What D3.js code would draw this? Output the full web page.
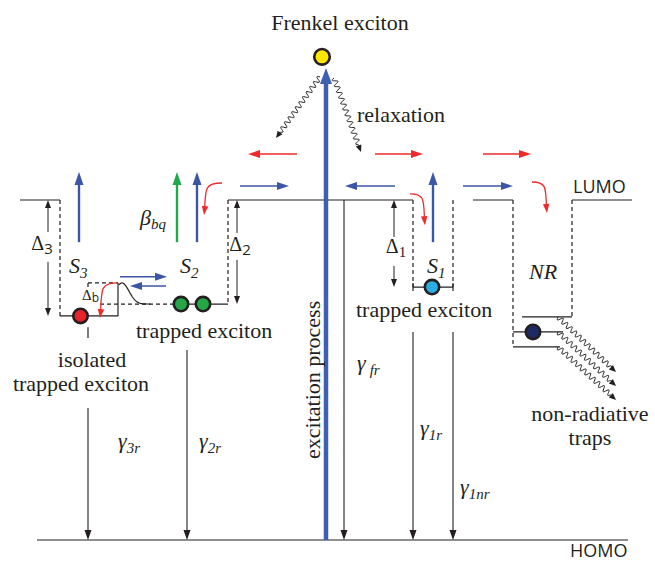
<!DOCTYPE html>
<html>
<head>
<meta charset="utf-8">
<script src="https://cdn.jsdelivr.net/npm/d3@7"></script>
<style>
  html, body { margin: 0; padding: 0; background: #fff; }
  svg { display: block; }
  text { fill: #231f20; }
  .serif { font-family: "Liberation Serif", "Times New Roman", Times, serif; }
  .sans { font-family: "Open Sans", "Noto Sans", sans-serif; }
</style>
</head>
<body>
<svg id="chart" width="655" height="562"></svg>
<script>
// ---------- energy levels (arbitrary units: HOMO = 0, LUMO = 10) ----------
const levelNames    = ["HOMO", "LUMO", "S1", "S2", "S3", "barrier", "NR top", "NR mid", "NR low", "Frenkel"];
const levelEnergies = [0, 10, 7.44, 6.94, 6.59, 7.56, 6.56, 6.12, 5.68, 14.21];

// ---------- band edges (site coordinate along the chain) ----------
const lumoStart = [0, 20.8, 45.3, 55.2];
const lumoEnd   = [4.0, 39.3, 49.3, 61.2];
const homoSpan  = [1.7, 60.8];

// dashed well walls: site and the level at which the wall stops
const wallSite  = [4.0, 20.8, 39.3, 43.3, 49.3, 55.2];
const wallFloor = ["S3", "S2", "S1", "S1", "NR low", "NR top"];

// solid trap floors
const floorLevel = ["S3", "S2", "S1", "NR top", "NR mid", "NR low"];
const floorStart = [4.0, 15.2, 39.3, 50.2, 49.3, 49.3];
const floorEnd   = [9.8, 20.8, 43.3, 55.2, 54.3, 54.0];

// excitons
const excitonName  = ["isolated", "trapped a", "trapped b", "trapped S1", "NR", "Frenkel"];
const excitonSite  = [6.05, 16.1, 18.3, 41.2, 51.3, 30.2];
const excitonLevel = ["S3", "S2", "S2", "S1", "NR mid", "Frenkel"];

// gaps to LUMO
const gapName  = ["3", "2", "1"];
const gapSite  = [2.8, 21.7, 37.4];
const gapLevel = ["S3", "S2", "S1"];
const gapBreak = [[9.06, 8.18], [9.03, 8.24], [8.91, 8.06]];

// decay channels to HOMO
const decayName = ["3r", "2r", "fr", "1r", "1nr"];
const decaySite = [6.8, 16.7, 32.4, 39.3, 43.3];
const decayFrom = [3.88, 5.59, 10, 6.12, 6.12];

// hopping arrows (horizontal)
const hopKind  = ["hot", "hot", "hot", "cold", "cold", "cold", "cold", "cold"];
const hopLevel = [11.35, 11.35, 11.35, 10.41, 10.41, 10.41, 7.74, 7.47];
const hopFrom  = [27.7, 35.5, 46.3, 22.0, 37.5, 44.3, 10.0, 14.6];
const hopTo    = [22.8, 40.3, 51.1, 26.9, 32.5, 49.3, 14.7, 11.0];

// escape arrows (upward)
const escKind = ["cold", "quench", "cold", "cold"];
const escSite = [5.9, 15.7, 17.7, 41.3];
const escFrom = [8.76, 8.76, 8.76, 8.76];
const escTo   = [10.82, 10.82, 10.82, 10.82];

// capture arrows (curved, into traps)
const capFrom = [[20.2, 10.50], [39.0, 10.18], [51.2, 10.53], [9.7, 7.56]];
const capTo   = [[18.4, 9.56], [40.5, 9.26], [52.7, 9.62], [8.0, 6.53]];

// relaxation / non-radiative wavy arrows
const waveFrom = [[30.0, 13.62], [31.4, 13.59], [53.8, 6.56], [53.8, 6.12], [53.8, 5.68]];
const waveTo   = [[25.6, 11.82], [34.1, 11.41], [59.6, 4.94], [59.6, 4.53], [59.6, 4.12]];

// ---------- styles ----------
const INK = "#231f20";
const colors = {
  hot: "#ee2a2a", cold: "#3b56a6", quench: "#22a84a", pump: "#3f5fb3",
  isolated: "#e8232a", "trapped a": "#25a748", "trapped b": "#25a748",
  "trapped S1": "#2aaee2", NR: "#1d2a66", Frenkel: "#ffe600"
};

const E = Object.fromEntries(levelNames.map((n, i) => [n, levelEnergies[i]]));
const xs = d3.scaleLinear().domain([0, 61.2]).range([20, 632]);
const ys = d3.scaleLinear().domain([0, 10]).range([540, 200]);

const svg = d3.select("#chart");
const g = svg.append("g");

function line(x1, y1, x2, y2, opt = {}) {
  return g.append("line")
    .attr("x1", x1).attr("y1", y1).attr("x2", x2).attr("y2", y2)
    .attr("stroke", opt.stroke || INK)
    .attr("stroke-width", opt.sw || 1.2)
    .attr("stroke-dasharray", opt.dash || null);
}

function head(x2, y2, ux, uy, hl, hw, fill) {
  const bx = x2 - ux * hl, by = y2 - uy * hl;
  g.append("path")
    .attr("d", `M${x2},${y2}L${bx - uy * hw / 2},${by + ux * hw / 2}L${bx + uy * hw / 2},${by - ux * hw / 2}Z`)
    .attr("fill", fill);
}

function arrow(x1, y1, x2, y2, opt = {}) {
  const hl = opt.hl || 10, hw = opt.hw || 8;
  const dx = x2 - x1, dy = y2 - y1, L = Math.hypot(dx, dy);
  const ux = dx / L, uy = dy / L;
  line(x1, y1, x2 - ux * hl * 0.8, y2 - uy * hl * 0.8, opt);
  head(x2, y2, ux, uy, hl, hw, opt.stroke || INK);
}

function wavy(x1, y1, x2, y2) {
  const hl = 7, hw = 6, amp = 2.6, wl = 6.2;
  const dx = x2 - x1, dy = y2 - y1, L = Math.hypot(dx, dy);
  const ux = dx / L, uy = dy / L, nx = -uy, ny = ux;
  const pts = [];
  const Lw = L - hl * 0.8;
  for (let t = 0; t <= Lw; t += 0.5) {
    const fade = Math.min(1, (Lw - t) / 4);
    const s = amp * Math.sin(2 * Math.PI * t / wl) * fade;
    pts.push([x1 + ux * t + nx * s, y1 + uy * t + ny * s]);
  }
  g.append("path").attr("d", d3.line()(pts))
    .attr("fill", "none").attr("stroke", INK).attr("stroke-width", 1);
  head(x2, y2, ux, uy, hl, hw, INK);
}

function capture(x1, y1, x2, y2) {
  const hl = 9, hw = 6.5;
  const by = y2 - hl;
  const path = `M${x1},${y1} C${x1 + (x2 - x1) * 0.95},${y1} ${x2 + (x1 - x2) * 0.08},${y1 + (by - y1) * 0.25} ${x2 + (x1 - x2) * 0.04},${by + 2}`;
  g.append("path").attr("d", path).attr("fill", "none")
    .attr("stroke", colors.hot).attr("stroke-width", 1.3);
  const ux = (x1 - x2) * -0.06, uy = hl;
  const L = Math.hypot(ux, uy);
  head(x2, y2, ux / L, uy / L, hl, hw, colors.hot);
}

function label(x, y, parts, opt = {}) {
  const t = g.append("text").attr("x", x).attr("y", y)
    .attr("class", opt.sans ? "sans" : "serif")
    .attr("font-size", opt.size || 22)
    .attr("text-anchor", opt.anchor || "start");
  if (opt.transform) t.attr("transform", opt.transform);
  parts.forEach(p => {
    const s = t.append("tspan").text(p.text);
    if (p.italic) s.attr("font-style", "italic");
    if (p.size) s.attr("font-size", p.size);
    if (p.dy) s.attr("dy", p.dy);
    if (p.dx) s.attr("dx", p.dx);
    if (p.sans) s.attr("class", "sans");
  });
  return t;
}

// ---------- HOMO / LUMO ----------
line(xs(homoSpan[0]), ys(E.HOMO), xs(homoSpan[1]), ys(E.HOMO));
lumoStart.forEach((s, i) => line(xs(s), ys(E.LUMO), xs(lumoEnd[i]), ys(E.LUMO)));

// dashed well walls
wallSite.forEach((s, i) => line(xs(s), ys(E.LUMO), xs(s), ys(E[wallFloor[i]]), { dash: "4,3" }));

// trap floors
floorLevel.forEach((lv, i) => line(xs(floorStart[i]), ys(E[lv]), xs(floorEnd[i]), ys(E[lv])));
// S1 floor end caps
[39.3, 43.3].forEach(s => line(xs(s), ys(E.S1) - 4, xs(s), ys(E.S1) + 4));
// S2 level continues as dashed line into the S3 barrier region
line(xs(8.0), ys(E.S2), xs(15.2), ys(E.S2), { dash: "4,3" });

// barrier between S3 and S2
line(xs(9.8), ys(E.S3), xs(9.8), ys(E.barrier));
line(xs(6.8), ys(E.barrier), xs(9.8), ys(E.barrier), { dash: "4,3" });
line(xs(6.8), ys(E.barrier), xs(6.8), ys(E.barrier) + 7, { dash: "4,3" });
// tail of the barrier profile
{
  const tops = d3.range(0, 32, 0.5).map(t => {
    const h = Math.exp(-Math.pow((t - 3) / 10, 2));
    const y0 = ys(E.S2), y1 = ys(E.barrier);
    return [xs(9.8) + 1 + t, y0 - h * (y0 - y1)];
  });
  g.append("path").attr("d", d3.line()(tops)).attr("fill", "none")
    .attr("stroke", INK).attr("stroke-width", 1.2);
}

// ---------- gap arrows Δ ----------
gapName.forEach((n, i) => {
  const x = xs(gapSite[i]);
  arrow(x, ys(gapBreak[i][0]), x, ys(E.LUMO), { hl: 8, hw: 6, sw: 1 });
  arrow(x, ys(gapBreak[i][1]), x, ys(E[gapLevel[i]]), { hl: 8, hw: 6, sw: 1 });
});

// ---------- decay arrows to HOMO ----------
decayName.forEach((n, i) => {
  const x = xs(decaySite[i]);
  arrow(x, ys(decayFrom[i]), x, ys(E.HOMO), { hl: 10, hw: 7, sw: 1.1 });
});
// short drop line below the isolated exciton
line(xs(6.8), ys(6.26), xs(6.8), ys(5.94));

// ---------- excitation ----------
arrow(xs(30.6), ys(E.HOMO), xs(30.6), ys(13.88), { stroke: colors.pump, sw: 4.5, hl: 16, hw: 12 });

// ---------- hopping arrows ----------
hopKind.forEach((k, i) => {
  arrow(xs(hopFrom[i]), ys(hopLevel[i]), xs(hopTo[i]), ys(hopLevel[i]),
    { stroke: colors[k], sw: 1.5, hl: 12, hw: 8 });
});

// ---------- escape arrows ----------
escKind.forEach((k, i) => {
  arrow(xs(escSite[i]), ys(escFrom[i]), xs(escSite[i]), ys(escTo[i]),
    { stroke: colors[k], sw: 2.4, hl: 13, hw: 9 });
});

// ---------- capture arrows ----------
capFrom.forEach((f, i) => capture(xs(f[0]), ys(f[1]), xs(capTo[i][0]), ys(capTo[i][1])));

// ---------- wavy arrows ----------
waveFrom.forEach((f, i) => wavy(xs(f[0]), ys(f[1]), xs(waveTo[i][0]), ys(waveTo[i][1])));

// ---------- excitons ----------
excitonName.forEach((n, i) => {
  g.append("circle")
    .attr("cx", xs(excitonSite[i])).attr("cy", ys(E[excitonLevel[i]]))
    .attr("r", n === "Frenkel" ? 7.8 : 7.2)
    .attr("fill", colors[n]).attr("stroke", INK).attr("stroke-width", 2.6);
});

// ---------- labels ----------
label(xs(32.0), ys(15.0), [{ text: "Frenkel exciton" }], { anchor: "middle" });
label(xs(33.7), ys(12.29), [{ text: "relaxation" }]);
label(xs(55.3), ys(10.21), [{ text: "LUMO" }], { sans: true, size: 18 });
label(xs(55.0), ys(-0.5), [{ text: "HOMO" }], { sans: true, size: 18 });

label(xs(11.6), ys(5.94), [{ text: "trapped exciton" }]);
label(xs(33.6), ys(6.56), [{ text: "trapped exciton" }]);
label(xs(7.2), ys(5.1), [{ text: "isolated" }], { anchor: "middle" });
label(xs(6.1), ys(4.38), [{ text: "trapped exciton" }], { anchor: "middle" });
label(xs(57.0), ys(3.5), [{ text: "non-radiative" }], { anchor: "middle" });
label(xs(57.0), ys(2.79), [{ text: "traps" }], { anchor: "middle" });

label(xs(30.0), ys(4.71), [{ text: "excitation process" }],
  { anchor: "middle", transform: `rotate(-90, ${xs(30.0)}, ${ys(4.71)})` });

// state labels
const stateText = ["3", "2", "1"];
const stateSite = [4.9, 16.0, 40.7];
stateText.forEach((s, i) => label(xs(stateSite[i]), ys(7.85),
  [{ text: "S", italic: true }, { text: s, italic: true, size: 15, dy: 5 }]));
label(xs(50.9), ys(7.68), [{ text: "NR", italic: true }]);
label(xs(12.0), ys(9.26), [{ text: "β", italic: true }, { text: "bq", italic: true, size: 15, dy: 4 }]);

// Δ labels
const deltaCenter = [2.2, 22.0, 37.6];
const deltaBase = [8.53, 8.5, 8.44];
gapName.forEach((n, i) => label(xs(deltaCenter[i]), ys(deltaBase[i]),
  [{ text: "Δ" }, { text: n, size: 15, dy: 4, sans: i !== 2 }],
  { anchor: "middle", size: 20 }));
label(xs(6.2), ys(7.06), [{ text: "Δ" }, { text: "b", size: 12, dy: 2, sans: true }], { size: 15 });

// decay labels
const gLabelX = [9.8, 17.9, 33.7, 40.0, 44.0];
const gLabelY = [2.71, 2.71, 5.0, 3.09, 1.35];
decayName.forEach((n, i) => {
  const parts = [{ text: "γ", italic: true }];
  if (n === "fr") parts.push({ text: "fr", italic: true, size: 15, dy: 5, dx: 4 });
  else parts.push({ text: n, italic: true, size: 15, dy: 5 });
  label(xs(gLabelX[i]), ys(gLabelY[i]), parts);
});
</script>
</body>
</html>
